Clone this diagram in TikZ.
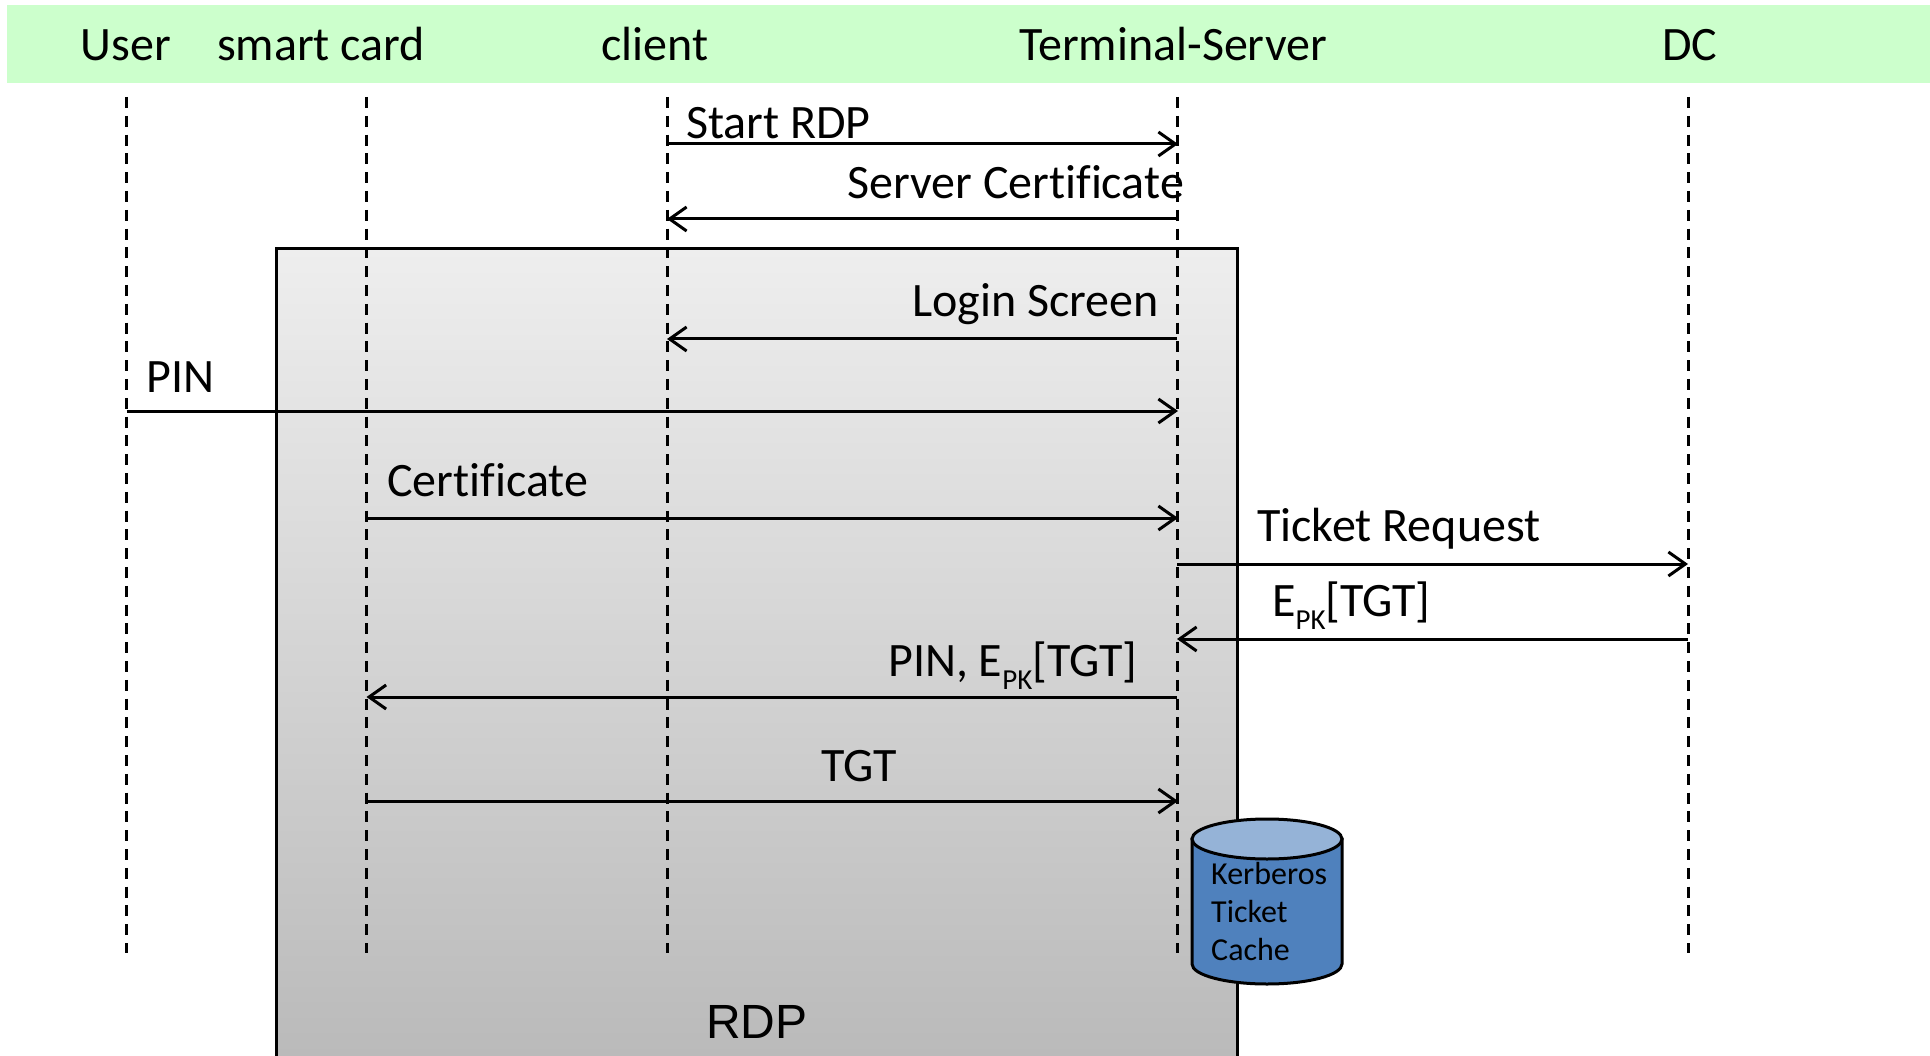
\documentclass[tikz,border=0pt]{standalone}
\usepackage{fontspec}
\setmainfont{Carlito}[Ligatures=CommonOff]
\newfontfamily\rdpfont{Liberation Sans}
\usetikzlibrary{arrows.meta,shapes.geometric}
\newcommand{\fs}[1]{\fontsize{#1pt}{#1pt}\selectfont}
\tikzset{
  x=1pt,y=-1pt,
  head/.style={anchor=base,inner sep=0pt,font=\fs{48}},
  lbl/.style={anchor=base west,inner sep=0pt,font=\fs{48}},
  life/.style={draw=black,line width=3pt,dash pattern=on 11pt off 7.8pt},
  msg/.style={draw=black,line width=3pt,-{Straight Barb[length=17pt,width=24pt,line width=3pt]}},
  frameline/.style={draw=black,line width=3pt},
  cyl/.style={draw=black,line width=3pt,fill=cylblue},
}
\definecolor{headgreen}{HTML}{CCFFCC}
\definecolor{cylblue}{HTML}{4F81BD}
\definecolor{cyltop}{HTML}{95B3D7}
\definecolor{boxtop}{HTML}{EEEEEE}
\definecolor{boxbot}{HTML}{BABABA}
\begin{document}
\begin{tikzpicture}
\useasboundingbox (0,0) rectangle (1930,1056);
% header
\fill[headgreen] (7,5) rectangle (1930,83);
\node[head] (hUser) at (126,61) {User};
\node[head] (hCard) at (321,61) {smart card};
\node[head] (hClient) at (655,61) {client};
\node[head] (hTS) at (1173,61) {Terminal-Server};
\node[head] (hDC) at (1690,61) {DC};
% RDP frame
\shade[top color=boxtop,bottom color=boxbot] (276.5,249) rectangle (1237,1056);
\draw[frameline] (276.5,1056) -- (276.5,249) -- (1237,249) -- (1237,1056);
\node[anchor=base,inner sep=0pt,font=\rdpfont\fs{48}] (rdp) at (757,1038) {RDP};
% lifelines
\coordinate (uT) at (126.5,97);  \coordinate (uB) at (126.5,953);
\coordinate (cT) at (366.5,97);  \coordinate (cB) at (366.5,953);
\coordinate (kT) at (667,97);  \coordinate (kB) at (667,953);
\coordinate (sT) at (1177,97); \coordinate (sB) at (1177,953);
\coordinate (dT) at (1688,97); \coordinate (dB) at (1688,953);
\draw[life] (uT) -- (uB);
\draw[life] (cT) -- (cB);
\draw[life] (kT) -- (kB);
\draw[life] (sT) -- (sB);
\draw[life] (dT) -- (dB);
% message anchors
\coordinate (m1a) at (667,144);  \coordinate (m1b) at (1178,144);
\coordinate (m2a) at (1177,219); \coordinate (m2b) at (667,219);
\coordinate (m3a) at (1177,339); \coordinate (m3b) at (667,339);
\coordinate (m4a) at (126.5,411);  \coordinate (m4b) at (1178,411);
\coordinate (m5a) at (366.5,518);  \coordinate (m5b) at (1178,518);
\coordinate (m6a) at (1177,564); \coordinate (m6b) at (1688,564);
\coordinate (m7a) at (1688,639); \coordinate (m7b) at (1177,639);
\coordinate (m8a) at (1177,697); \coordinate (m8b) at (366.5,697);
\coordinate (m9a) at (366.5,801);  \coordinate (m9b) at (1178,801);
\draw[msg] (m1a) -- (m1b);
\draw[msg] (m2a) -- (m2b);
\draw[msg] (m3a) -- (m3b);
\draw[msg] (m4a) -- (m4b);
\draw[msg] (m5a) -- (m5b);
\draw[msg] (m6a) -- (m6b);
\draw[msg] (m7a) -- (m7b);
\draw[msg] (m8a) -- (m8b);
\draw[msg] (m9a) -- (m9b);
% labels
\node[lbl] (l1) at (686,139) {Start RDP};
\node[lbl] (l2) at (847,199) {Server Certificate};
\node[lbl] (l3) at (912,317) {Login Screen};
\node[lbl] (l4) at (146,392) {PIN};
\node[lbl] (l5) at (387,496) {Certificate};
\node[lbl] (l6) at (1257,541) {Ticket Request};
\node[lbl] (l7) at (1272,616) {E\raisebox{-0.28em}{\fs{29}PK}[TGT]};
\node[lbl] (l8) at (888,676) {PIN, E\raisebox{-0.28em}{\fs{29}PK}[TGT]};
\node[lbl] (l9) at (821,781) {TGT};
% cylinder
\path[cyl] (1192,839) -- (1192,964) arc[start angle=180,end angle=360,x radius=75,y radius=-20] -- (1342,839) -- cycle;
\path[cyl,fill=cyltop] (1267,839) ellipse[x radius=75,y radius=20];
\node[anchor=base west,inner sep=0pt,font=\fs{32}] (k1) at (1211,884) {Kerberos};
\node[anchor=base west,inner sep=0pt,font=\fs{32}] (k2) at (1211,922) {Ticket};
\node[anchor=base west,inner sep=0pt,font=\fs{32}] (k3) at (1211,960) {Cache};
\end{tikzpicture}
\end{document}
